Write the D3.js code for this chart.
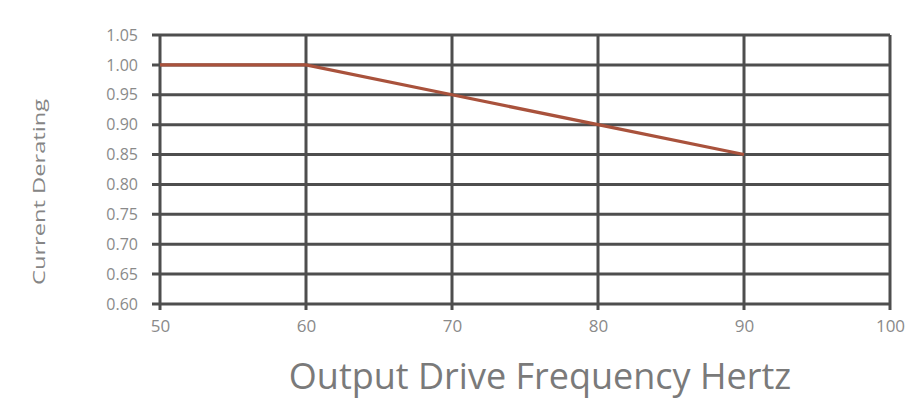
<!DOCTYPE html>
<html><head><meta charset="utf-8">
<script src="https://cdn.jsdelivr.net/npm/d3@7"></script>
<style>html,body{margin:0;padding:0;background:#fff;}</style>
</head><body>
<svg id="c" width="914" height="401"></svg>
<script>
const freq = [50, 60, 70, 80, 90];
const derating = [1.00, 1.00, 0.95, 0.90, 0.85];
const xTicks = [50, 60, 70, 80, 90, 100];
const yTicks = [1.05, 1.00, 0.95, 0.90, 0.85, 0.80, 0.75, 0.70, 0.65, 0.60];

const svg = d3.select("#c");
const m = {l: 160, r: 24, t: 35, b: 97};
const W = 914, H = 401;
const x = d3.scaleLinear().domain([50, 100]).range([m.l, W - m.r]);
const y = d3.scaleLinear().domain([0.60, 1.05]).range([H - m.b, m.t]);

const grid = svg.append("g");
grid.selectAll("line.h").data(yTicks).join("line")
  .attr("x1", x(50) - 8).attr("x2", x(100))
  .attr("y1", d => y(d)).attr("y2", d => y(d))
  .attr("stroke", "#4e4e4e").attr("stroke-width", 3);
grid.selectAll("line.v").data(xTicks).join("line")
  .attr("x1", d => x(d)).attr("x2", d => x(d))
  .attr("y1", y(1.05)).attr("y2", y(0.60) + 6)
  .attr("stroke", "#4e4e4e").attr("stroke-width", 3);

const yAxis = d3.axisLeft(y).tickValues(yTicks).tickFormat(d3.format(".2f")).tickSize(0).tickPadding(22);
svg.append("g").attr("transform", `translate(${x(50)},0)`).call(yAxis)
  .call(g => g.select(".domain").remove())
  .selectAll("text").attr("font-family", "Open Sans, sans-serif").attr("font-size", 16).attr("fill", "#8a8a8a");

const xAxis = d3.axisBottom(x).tickValues(xTicks).tickFormat(d3.format("d")).tickSize(0).tickPadding(16);
svg.append("g").attr("transform", `translate(0,${y(0.60)})`).call(xAxis)
  .call(g => g.select(".domain").remove())
  .selectAll("text").attr("font-family", "Open Sans, sans-serif").attr("font-size", 17).attr("fill", "#8a8a8a");

const line = d3.line().x((d, i) => x(freq[i])).y(d => y(d));
svg.append("path").datum(derating).attr("d", line)
  .attr("fill", "none").attr("stroke", "#a9523c").attr("stroke-width", 3.2);

svg.append("text").attr("x", 540).attr("y", 389).attr("text-anchor", "middle")
  .attr("font-family", "Open Sans, sans-serif").attr("font-size", 36).attr("fill", "#7a7a7a")
  .text("Output Drive Frequency Hertz");

svg.append("text").attr("transform", `translate(45,192) rotate(-90)`).attr("text-anchor", "middle")
  .attr("font-family", "Open Sans, sans-serif").attr("font-size", 17).attr("fill", "#858585")
  .attr("textLength", 186).attr("lengthAdjust", "spacingAndGlyphs")
  .text("Current Derating");
</script>
</body></html>
